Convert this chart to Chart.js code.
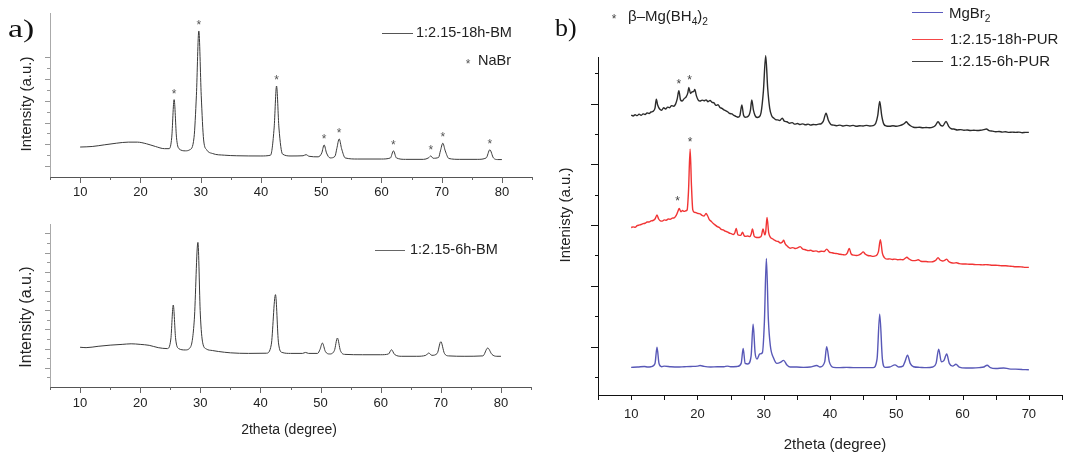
<!DOCTYPE html>
<html><head><meta charset="utf-8">
<script src="https://cdn.jsdelivr.net/npm/chart.js@4.4.1/dist/chart.umd.min.js"></script>
<style>
html,body{margin:0;padding:0;background:#fff;}
#wrap{position:relative;width:1074px;height:456px;overflow:hidden;background:#fff;}
canvas{position:absolute;}
</style></head><body>
<div id="wrap">
<canvas id="a1" width="540" height="200" style="left:0;top:0"></canvas>
<canvas id="a2" width="540" height="256" style="left:0;top:200px"></canvas>
<canvas id="b" width="534" height="456" style="left:540px;top:0"></canvas>
</div>
<script>
// ---------- DATA ----------
const xTicksA = [5,10,15,20,25,30,35,40,45,50,55,60,65,70,75,80,85];
const xLabelsA = [10,20,30,40,50,60,70,80];
const xTicksB = [5,10,15,20,25,30,35,40,45,50,55,60,65,70,75];
const xLabelsB = [10,20,30,40,50,60,70];
const yTicksA1 = [1,2,3,4,5,6,7,8,9,10,11];
const yTicksA2 = [0.5,1,1.5,2,2.5,3,3.5,4,4.5,5,5.5,6,6.5,7,7.5,8];
const yTicksB = [0,1,2,3,4,5,6,7,8,9,10];

const seriesNamesA = ['1:2.15-18h-BM', '1:2.15-6h-BM'];
const seriesNamesB = ['MgBr2', '1:2.15-18h-PUR', '1:2.15-6h-PUR'];

// panel a, top: 1:2.15-18h-BM  [2theta, intensity]
const bm18h = [[10,2.75],[12,2.8],[14,2.95],[16,3.1],[18,3.2],[19.5,3.2],[21,3.05],[22.5,2.8],[24,2.6],[24.8,2.6],[25.2,3.6],[25.6,7.1],[26.0,3.6],[26.4,2.6],[27.5,2.4],[28.2,2.5],[28.9,3.6],[29.3,7.5],[29.7,13.4],[30.1,7.5],[30.5,3.4],[31,2.5],[32,2.15],[34,2.0],[36,1.95],[40,1.93],[41.6,2.0],[42.2,4.5],[42.6,8.35],[43.0,4.5],[43.6,2.1],[45,1.93],[47,1.95],[47.5,2.05],[48,1.9],[49.5,1.85],[50.1,2.2],[50.5,2.94],[50.9,2.2],[51.5,1.75],[52.3,1.9],[52.6,2.6],[53,3.49],[53.4,2.6],[54,1.75],[56,1.65],[60,1.65],[61.5,1.75],[62,2.4],[62.5,1.75],[64,1.62],[67,1.62],[67.8,1.75],[68.2,1.93],[68.6,1.72],[69.5,1.8],[69.8,2.4],[70.2,3.1],[70.6,2.4],[71.2,1.7],[73,1.62],[76,1.62],[77.4,1.75],[78,2.5],[78.6,1.75],[79.3,1.6],[80,1.6]];
// panel a, bottom: 1:2.15-6h-BM
const bm6h = [[10,2.07],[11,2.05],[13,2.12],[15,2.18],[17,2.22],[18.5,2.25],[20,2.22],[21.5,2.17],[23,2.05],[24.5,2.0],[25.1,2.5],[25.5,4.27],[25.9,2.5],[26.4,2.0],[27.5,1.93],[28.4,2.1],[29.0,3.5],[29.6,7.53],[30.0,3.8],[30.4,2.3],[31,1.98],[32,1.9],[33,1.85],[35,1.78],[38,1.75],[41,1.76],[41.8,2.2],[42.5,4.81],[43.0,2.3],[43.6,1.8],[45,1.75],[47,1.75],[47.5,1.8],[48,1.75],[49.5,1.75],[49.9,1.95],[50.3,2.29],[50.8,1.85],[51.5,1.72],[52.3,1.9],[52.8,2.55],[53.3,1.9],[54,1.7],[57,1.68],[60,1.68],[61.3,1.72],[61.8,1.94],[62.3,1.7],[63.5,1.6],[66,1.6],[67.5,1.65],[68,1.77],[68.5,1.65],[69.4,1.75],[70,2.36],[70.6,1.75],[71.3,1.62],[74,1.6],[77,1.62],[77.8,2.03],[78.5,1.7],[79.3,1.6],[80,1.6]];
// panel b: 1:2.15-6h-PUR (offset trace)
const pur6h = [[10,8.62],[10.3,8.59],[10.6,8.63],[10.9,8.60],[11.2,8.65],[11.5,8.61],[11.8,8.66],[12.1,8.64],[12.4,8.69],[12.7,8.67],[13.0,8.72],[13.3,8.74],[13.6,8.85],[13.8,9.14],[14.0,8.95],[14.3,8.82],[14.6,8.78],[14.9,8.86],[15.2,8.82],[15.5,8.88],[15.8,8.86],[16.1,8.93],[16.4,8.91],[16.7,8.98],[16.95,9.15],[17.2,9.42],[17.45,9.12],[17.7,9.08],[18.0,9.16],[18.3,9.22],[18.55,9.35],[18.7,9.53],[18.95,9.33],[19.2,9.38],[19.45,9.40],[19.6,9.46],[19.85,9.25],[20.1,9.12],[20.4,9.08],[20.7,9.11],[21.0,9.09],[21.3,9.12],[21.6,9.06],[21.9,9.10],[22.2,9.04],[22.5,9.02],[22.8,8.94],[23.1,8.96],[23.4,8.87],[23.7,8.84],[24.0,8.79],[24.3,8.76],[24.6,8.72],[24.9,8.67],[25.2,8.66],[25.5,8.61],[25.8,8.58],[26.1,8.55],[26.4,8.6],[26.7,8.95],[26.95,8.62],[27.2,8.55],[27.5,8.56],[27.8,8.62],[28.0,8.78],[28.2,9.12],[28.45,8.78],[28.7,8.6],[29.0,8.54],[29.3,8.56],[29.6,8.7],[29.95,9.4],[30.3,10.57],[30.6,9.5],[30.9,8.85],[31.2,8.6],[31.5,8.52],[31.8,8.47],[32.1,8.46],[32.4,8.44],[32.8,8.52],[33.1,8.42],[33.5,8.40],[33.9,8.35],[34.3,8.37],[34.7,8.32],[35.1,8.34],[35.5,8.31],[35.9,8.33],[36.3,8.30],[36.7,8.32],[37.1,8.29],[37.5,8.31],[37.9,8.30],[38.3,8.32],[38.7,8.34],[39.0,8.42],[39.4,8.68],[39.75,8.45],[40.1,8.32],[40.5,8.29],[41,8.27],[41.5,8.29],[42,8.26],[42.5,8.28],[43,8.26],[43.5,8.28],[44,8.25],[44.5,8.27],[45,8.26],[45.5,8.28],[46,8.26],[46.5,8.27],[46.9,8.35],[47.2,8.6],[47.5,9.07],[47.8,8.6],[48.1,8.33],[48.5,8.26],[49,8.25],[49.5,8.27],[50,8.25],[50.5,8.27],[51,8.31],[51.3,8.36],[51.5,8.40],[51.8,8.33],[52.2,8.26],[52.6,8.22],[53,8.21],[53.5,8.22],[54,8.2],[54.5,8.21],[55,8.2],[55.5,8.22],[55.9,8.28],[56.3,8.40],[56.7,8.28],[57.0,8.26],[57.5,8.41],[57.9,8.25],[58.3,8.17],[58.7,8.16],[59.2,8.13],[59.7,8.14],[60.2,8.12],[60.7,8.13],[61.2,8.11],[61.7,8.12],[62.2,8.11],[62.7,8.12],[63.2,8.14],[63.6,8.16],[64.0,8.11],[64.5,8.09],[65,8.07],[65.5,8.08],[66,8.06],[66.5,8.07],[67,8.05],[67.5,8.06],[68,8.05],[68.5,8.06],[69,8.04],[69.5,8.05],[70,8.05]];
// panel b: 1:2.15-18h-PUR (offset trace)
const pur18h = [[10,4.92],[10.3,4.94],[10.6,4.93],[10.9,4.98],[11.2,5.0],[11.5,5.02],[11.8,5.05],[12.1,5.06],[12.4,5.1],[12.7,5.1],[13.0,5.14],[13.3,5.15],[13.6,5.2],[13.9,5.33],[14.15,5.2],[14.4,5.14],[14.7,5.13],[15.0,5.17],[15.3,5.16],[15.6,5.2],[15.9,5.19],[16.2,5.23],[16.5,5.24],[16.8,5.32],[17.05,5.45],[17.25,5.55],[17.5,5.44],[17.75,5.48],[18.0,5.45],[18.25,5.47],[18.45,5.5],[18.65,6.1],[18.9,7.5],[19.1,6.3],[19.3,5.5],[19.55,5.42],[19.8,5.41],[20.1,5.38],[20.4,5.37],[20.7,5.32],[21.0,5.3],[21.3,5.38],[21.55,5.3],[21.8,5.18],[22.1,5.12],[22.4,5.05],[22.7,5.0],[23.0,4.95],[23.3,4.92],[23.6,4.86],[23.9,4.84],[24.2,4.80],[24.5,4.78],[24.8,4.74],[25.1,4.72],[25.4,4.69],[25.65,4.75],[25.85,4.89],[26.1,4.68],[26.4,4.66],[26.6,4.68],[26.8,4.77],[27.05,4.65],[27.3,4.63],[27.6,4.64],[27.9,4.62],[28.1,4.7],[28.3,4.87],[28.55,4.64],[28.8,4.6],[29.1,4.59],[29.4,4.6],[29.65,4.65],[29.9,4.87],[30.15,4.68],[30.3,4.78],[30.5,5.25],[30.75,4.75],[31.0,4.6],[31.3,4.55],[31.6,4.51],[31.9,4.47],[32.2,4.46],[32.5,4.41],[32.8,4.44],[33.0,4.5],[33.25,4.38],[33.6,4.3],[34.0,4.24],[34.4,4.26],[34.8,4.23],[35.1,4.25],[35.5,4.29],[35.9,4.21],[36.3,4.19],[36.7,4.16],[37.1,4.17],[37.5,4.14],[37.9,4.15],[38.3,4.12],[38.7,4.14],[39.1,4.13],[39.5,4.21],[39.9,4.11],[40.3,4.09],[40.7,4.07],[41.1,4.06],[41.5,4.04],[41.9,4.03],[42.3,4.02],[42.6,4.08],[42.9,4.23],[43.2,4.05],[43.6,4.01],[44.0,4.0],[44.4,4.02],[44.7,4.06],[45.0,4.12],[45.3,4.05],[45.7,4.0],[46.1,3.99],[46.5,3.97],[46.9,3.99],[47.3,4.12],[47.6,4.52],[47.9,4.08],[48.2,3.93],[48.6,3.88],[49.0,3.89],[49.4,3.87],[49.8,3.88],[50.2,3.86],[50.6,3.87],[51.0,3.86],[51.3,3.9],[51.6,3.94],[51.9,3.89],[52.3,3.84],[52.7,3.83],[53.0,3.84],[53.3,3.86],[53.7,3.81],[54.1,3.8],[54.5,3.8],[54.9,3.79],[55.3,3.79],[55.7,3.81],[56.0,3.85],[56.3,3.93],[56.6,3.85],[57.0,3.82],[57.3,3.84],[57.6,3.88],[57.9,3.8],[58.3,3.76],[58.7,3.75],[59.1,3.76],[59.5,3.73],[60,3.72],[60.5,3.72],[61,3.71],[61.5,3.71],[62,3.70],[62.5,3.70],[63,3.69],[63.5,3.70],[64,3.69],[64.5,3.68],[65,3.68],[65.5,3.67],[66,3.66],[66.5,3.66],[67,3.65],[67.5,3.64],[68,3.63],[68.5,3.63],[69,3.62],[69.5,3.61],[70,3.61]];
// panel b: MgBr2
const mgbr2 = [[10,0.32],[11,0.33],[12,0.35],[12.5,0.33],[13,0.34],[13.6,0.45],[13.9,0.98],[14.2,0.45],[14.6,0.34],[15,0.36],[16,0.34],[17,0.33],[18,0.34],[19,0.35],[20,0.36],[20.4,0.38],[21,0.35],[22,0.33],[23,0.34],[24,0.34],[24.5,0.36],[25,0.34],[26,0.35],[26.6,0.45],[26.9,0.94],[27.2,0.45],[27.6,0.43],[28.1,0.7],[28.4,1.74],[28.7,0.8],[29.0,0.59],[29.4,0.76],[29.8,0.8],[30.1,1.8],[30.4,3.90],[30.7,1.9],[31,1.03],[31.5,0.62],[32,0.45],[32.5,0.48],[33,0.55],[33.5,0.4],[34,0.33],[35,0.33],[36,0.32],[37,0.33],[38,0.38],[38.5,0.33],[39.2,0.5],[39.5,1.0],[39.9,0.5],[40.5,0.32],[41.5,0.31],[42.5,0.32],[43.5,0.31],[44.5,0.31],[45.5,0.31],[46.5,0.31],[47.1,0.6],[47.5,2.07],[47.9,0.6],[48.3,0.32],[49,0.33],[49.8,0.40],[50.4,0.33],[51,0.36],[51.3,0.5],[51.7,0.72],[52.1,0.45],[52.6,0.34],[53.5,0.32],[54.5,0.31],[55.5,0.33],[56,0.45],[56.4,0.92],[56.8,0.5],[57.2,0.55],[57.6,0.76],[58.0,0.45],[58.5,0.36],[59,0.42],[59.5,0.33],[60.5,0.3],[61.5,0.3],[62.5,0.31],[63.2,0.33],[63.7,0.39],[64.2,0.31],[65,0.28],[66.2,0.30],[67,0.27],[68,0.26],[69,0.25],[70,0.24]];

// peak markers (2theta of '*' labels)
const naBrPeaks = [25.6,29.7,42.6,50.5,53.0,62.0,68.2,70.2,78.0];
const betaPeaksBlack = [17.2,18.8];
const betaPeaksRed = [17.0,18.9];

// ---------- HELPERS ----------
const SANS = '"Liberation Sans", Arial, sans-serif';
const SERIF = '"Liberation Serif", "Times New Roman", serif';
const toPts = arr => arr.map(p => ({x:p[0], y:p[1]}));

function peakTop(series, x0){
  let m = -Infinity;
  for (const p of series) if (Math.abs(p[0]-x0) <= 0.45 && p[1] > m) m = p[1];
  return m;
}

function drawRich(ctx, parts, x, y, size, color){
  ctx.fillStyle = color;
  ctx.textBaseline = 'middle';
  ctx.textAlign = 'left';
  let cx = x;
  for (const p of parts){
    const s = p.sub ? size*0.68 : size;
    ctx.font = s + 'px ' + SANS;
    ctx.fillText(p.t, cx, p.sub ? y + size*0.32 : y);
    cx += ctx.measureText(p.t).width;
  }
}

function star(ctx, x, y, size, color){
  ctx.fillStyle = color;
  ctx.font = size + 'px ' + SANS;
  ctx.textAlign = 'center';
  ctx.textBaseline = 'alphabetic';
  ctx.fillText('*', x, y + size*0.58);
}

function makePlugin(spec){
  return {
    id: 'decor',
    afterDraw(chart){
      const ctx = chart.ctx, xs = chart.scales.x, ys = chart.scales.y;
      ctx.save();
      ctx.lineWidth = 1;
      ctx.strokeStyle = spec.xTickColor;
      for (const v of spec.xTicks){
        const px = Math.round(xs.getPixelForValue(v)) + 0.5;
        const len = spec.xLabels.includes(v) ? spec.xMajor : spec.xMinor;
        ctx.beginPath(); ctx.moveTo(px, xs.top); ctx.lineTo(px, xs.top + len); ctx.stroke();
      }
      ctx.strokeStyle = spec.yTickColor;
      for (const v of spec.yTicks){
        const py = Math.round(ys.getPixelForValue(v)) + 0.5;
        const len = spec.isMajorY(v) ? spec.yMajor : spec.yMinor;
        ctx.beginPath(); ctx.moveTo(ys.right, py); ctx.lineTo(ys.right - len, py); ctx.stroke();
      }
      for (const st of (spec.stars || [])){
        for (const x0 of st.peaks){
          const px = xs.getPixelForValue(x0);
          const py = ys.getPixelForValue(peakTop(st.series, x0)) - st.off;
          star(ctx, px, py, st.size, st.color);
        }
      }
      for (const t of (spec.texts || [])){
        ctx.save();
        ctx.fillStyle = t.color || '#222';
        ctx.font = (t.font || (t.size + 'px ' + SANS));
        ctx.textBaseline = 'middle';
        ctx.textAlign = t.align || 'left';
        ctx.translate(t.x, t.y);
        if (t.rot) ctx.rotate(t.rot);
        if (t.sx) ctx.scale(t.sx, 1);
        ctx.fillText(t.text, 0, 0);
        ctx.restore();
      }
      for (const l of (spec.legendLines || [])){
        ctx.strokeStyle = l.color; ctx.lineWidth = l.w || 1;
        ctx.beginPath(); ctx.moveTo(l.x1, l.y + 0.5); ctx.lineTo(l.x2, l.y + 0.5); ctx.stroke();
      }
      for (const r of (spec.rich || [])) drawRich(ctx, r.parts, r.x, r.y, r.size, r.color || '#222');
      for (const s of (spec.freeStars || [])) star(ctx, s.x, s.y, s.size, s.color);
      ctx.restore();
    }
  };
}

function makeChart(id, cfg){
  const canvas = document.getElementById(id);
  return new Chart(canvas, {
    type: 'line',
    data: { datasets: cfg.datasets.map(d => ({
      label: d.label, data: toPts(d.data), borderColor: d.color, borderWidth: d.width || 1,
      pointRadius: 0, fill: false, cubicInterpolationMode: 'monotone', clip: false
    })) },
    options: {
      responsive: false, animation: false, devicePixelRatio: 1,
      layout: { padding: cfg.padding },
      plugins: { legend: { display: false }, tooltip: { enabled: false } },
      scales: {
        x: {
          type: 'linear', min: cfg.xMin, max: cfg.xMax,
          afterBuildTicks: s => { s.ticks = cfg.xTicks.map(v => ({value: v})); },
          afterFit: s => { s.height = cfg.xH; },
          grid: { display: false, drawTicks: false },
          border: { display: true, color: cfg.xAxisColor, width: 1 },
          ticks: { autoSkip: false, maxRotation: 0, minRotation: 0, padding: cfg.xPad, color: '#222',
                   font: { family: SANS, size: cfg.tickSize },
                   callback: v => cfg.xLabels.includes(v) ? String(v) : '' }
        },
        y: {
          type: 'linear', min: cfg.yMin, max: cfg.yMax,
          afterBuildTicks: s => { s.ticks = cfg.yTicks.map(v => ({value: v})); },
          afterFit: s => { s.width = cfg.yW; },
          grid: { display: false, drawTicks: false },
          border: { display: true, color: cfg.yAxisColor, width: 1 },
          ticks: { display: false }
        }
      }
    },
    plugins: [makePlugin(cfg.decor)]
  });
}

// ---------- PANEL a (top) ----------
makeChart('a1', {
  datasets: [{ label: seriesNamesA[0], data: bm18h, color: '#3a3a3a', width: 1 }],
  padding: { top: 13, right: 7, left: 0, bottom: 0 },
  xMin: 5, xMax: 85, xTicks: xTicksA, xLabels: xLabelsA, xH: 23, xPad: 8, tickSize: 13,
  yMin: 0, yMax: 15.05, yTicks: yTicksA1, yW: 50,
  xAxisColor: '#555', yAxisColor: '#aaa',
  decor: {
    xTicks: xTicksA, xLabels: xLabelsA, xMajor: 6, xMinor: 3, xTickColor: '#666',
    yTicks: yTicksA1, isMajorY: v => v % 2 === 1, yMajor: 5, yMinor: 3, yTickColor: '#999',
    stars: [{ peaks: naBrPeaks, series: bm18h, off: 9, size: 12, color: '#555' }],
    texts: [
      { text: 'a)', x: 8, y: 30, font: '26px ' + SERIF, color: '#111', sx: 1.3 },
      { text: 'Intensity (a.u.)', x: 27, y: 104, size: 15, rot: -Math.PI/2, align: 'center' },
      { text: seriesNamesA[0], x: 416, y: 33, size: 14.5 },
      { text: 'NaBr', x: 478, y: 61, size: 14.5 }
    ],
    legendLines: [{ x1: 382, x2: 413, y: 33, color: '#555' }],
    freeStars: [{ x: 468, y: 61, size: 12, color: '#555' }]
  }
});

// ---------- PANEL a (bottom) ----------
makeChart('a2', {
  datasets: [{ label: seriesNamesA[1], data: bm6h, color: '#3a3a3a', width: 1 }],
  padding: { top: 24, right: 7, left: 0, bottom: 0 },
  xMin: 5, xMax: 85, xTicks: xTicksA, xLabels: xLabelsA, xH: 69, xPad: 9, tickSize: 13,
  yMin: 0, yMax: 8.49, yTicks: yTicksA2, yW: 50,
  xAxisColor: '#555', yAxisColor: '#aaa',
  decor: {
    xTicks: xTicksA, xLabels: xLabelsA, xMajor: 6, xMinor: 3, xTickColor: '#666',
    yTicks: yTicksA2, isMajorY: v => Number.isInteger(v), yMajor: 5, yMinor: 3, yTickColor: '#999',
    texts: [
      { text: 'Intensity (a.u.)', x: 27, y: 117, size: 16, rot: -Math.PI/2, align: 'center' },
      { text: '2theta (degree)', x: 289, y: 230, size: 14, align: 'center' },
      { text: seriesNamesA[1], x: 410, y: 50, size: 14.5 }
    ],
    legendLines: [{ x1: 375, x2: 405, y: 50, color: '#666' }]
  }
});

// ---------- PANEL b ----------
makeChart('b', {
  datasets: [
    { label: seriesNamesB[0], data: mgbr2, color: 'rgba(70,70,175,0.9)', width: 1.4 },
    { label: seriesNamesB[1], data: pur18h, color: 'rgba(240,30,30,0.9)', width: 1.4 },
    { label: seriesNamesB[2], data: pur6h, color: 'rgba(20,20,20,0.9)', width: 1.4 }
  ],
  padding: { top: 57, right: 2, left: 0, bottom: 0 },
  xMin: 5, xMax: 75, xTicks: xTicksB, xLabels: xLabelsB, xH: 61, xPad: 12, tickSize: 13,
  yMin: -0.59, yMax: 10.53, yTicks: yTicksB, yW: 58,
  xAxisColor: '#111', yAxisColor: '#111',
  decor: {
    xTicks: xTicksB, xLabels: xLabelsB, xMajor: 5, xMinor: 5, xTickColor: '#111',
    yTicks: yTicksB, isMajorY: v => v % 2 === 1, yMajor: 7, yMinor: 3, yTickColor: '#111',
    stars: [
      { peaks: betaPeaksBlack, series: pur6h, off: 10, size: 12, color: '#444' },
      { peaks: betaPeaksRed, series: pur18h, off: 10, size: 12, color: '#444' }
    ],
    texts: [
      { text: 'b)', x: 15, y: 29, font: '26px ' + SERIF, color: '#111' },
      { text: 'Intenisty (a.u.)', x: 26, y: 215, size: 15, rot: -Math.PI/2, align: 'center' },
      { text: '2theta (degree)', x: 295, y: 445, size: 15, align: 'center' },
      { text: seriesNamesB[1], x: 410, y: 40, size: 15 },
      { text: seriesNamesB[2], x: 410, y: 62, size: 15 }
    ],
    legendLines: [
      { x1: 372, x2: 403, y: 12, color: 'rgb(90,90,190)' },
      { x1: 372, x2: 403, y: 39, color: 'rgb(245,70,70)' },
      { x1: 372, x2: 403, y: 61, color: '#444' }
    ],
    rich: [
      { parts: [{t:'MgBr'},{t:'2',sub:true}], x: 409, y: 14, size: 15 },
      { parts: [{t:'\u03B2\u2013Mg(BH'},{t:'4',sub:true},{t:')'},{t:'2',sub:true}], x: 88, y: 17, size: 15 }
    ],
    freeStars: [{ x: 74, y: 16, size: 12, color: '#444' }]
  }
});
</script>
</body></html>
